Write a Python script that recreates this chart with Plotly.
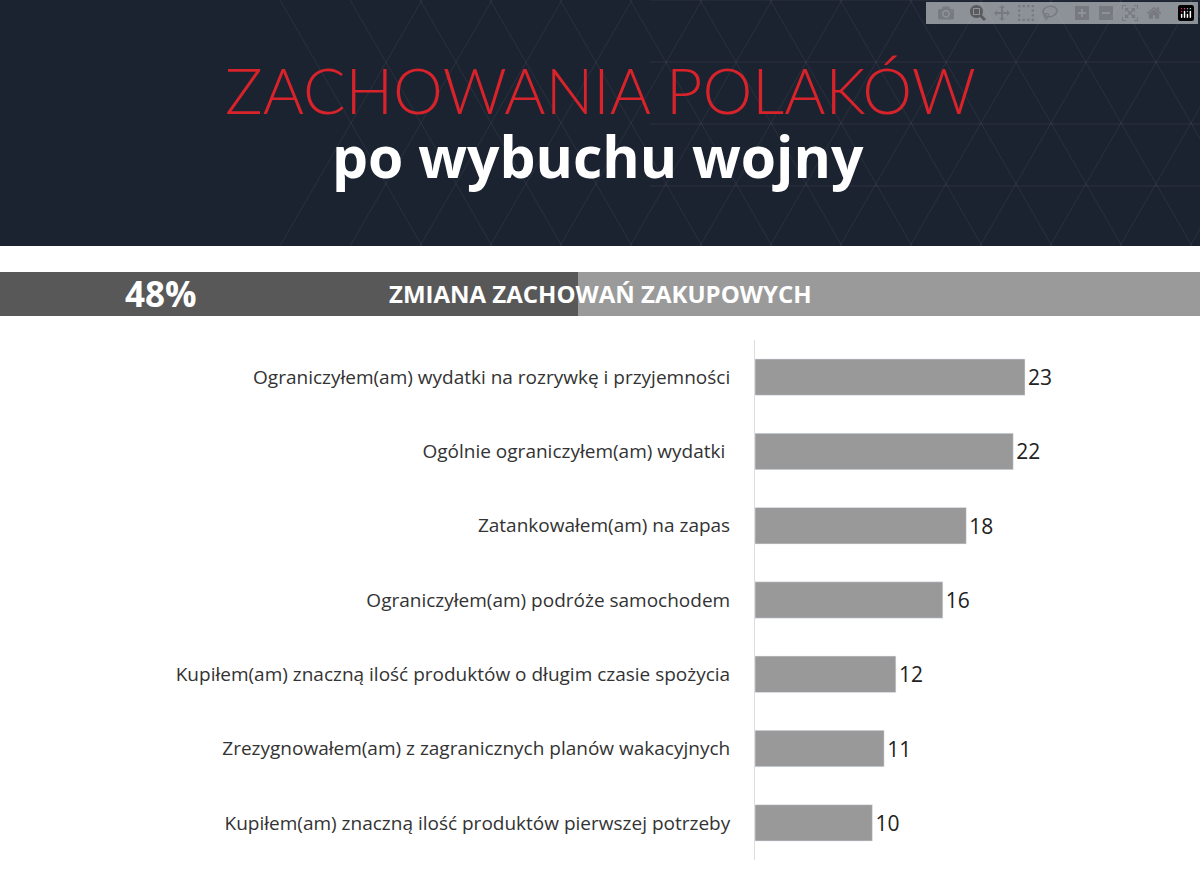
import plotly.graph_objects as go

categories = [
    "Ograniczyłem(am) wydatki na rozrywkę i przyjemności",
    "Ogólnie ograniczyłem(am) wydatki ",
    "Zatankowałem(am) na zapas",
    "Ograniczyłem(am) podróże samochodem",
    "Kupiłem(am) znaczną ilość produktów o długim czasie spożycia",
    "Zrezygnowałem(am) z zagranicznych planów wakacyjnych",
    "Kupiłem(am) znaczną ilość produktów pierwszej potrzeby",
]
values = [23, 22, 18, 16, 12, 11, 10]
share_label = "48%"
band_title = "ZMIANA ZACHOWAŃ ZAKUPOWYCH"

fig = go.Figure(go.Bar(
    y=categories, x=values, orientation="h",
    marker_color="#999999", width=0.49,
    text=values, textposition="outside", cliponaxis=False,
    textfont=dict(size=21, color="#222222", family="Open Sans"),
))

H = 892
shapes = [
    dict(type="rect", xref="paper", yref="paper", x0=0, x1=1, y0=1 - 246 / H, y1=1,
         fillcolor="#1b2230", line_width=0, layer="below"),
    dict(type="rect", xref="paper", yref="paper", x0=0, x1=578 / 1200, y0=1 - 316 / H, y1=1 - 272 / H,
         fillcolor="#585858", line_width=0, layer="below"),
    dict(type="rect", xref="paper", yref="paper", x0=578 / 1200, x1=1, y0=1 - 316 / H, y1=1 - 272 / H,
         fillcolor="#9a9a9a", line_width=0, layer="below"),
]
# faint triangle grid in the header's right part
for i in range(-6, 14):
    x0 = 700 + i * 70
    shapes.append(dict(type="line", xref="paper", yref="paper", x0=x0 / 1200, y0=1 - 246 / H,
                       x1=(x0 + 142) / 1200, y1=1, line=dict(color="rgba(255,255,255,0.07)", width=1)))
    shapes.append(dict(type="line", xref="paper", yref="paper", x0=(x0 + 142) / 1200, y0=1 - 246 / H,
                       x1=x0 / 1200, y1=1, line=dict(color="rgba(255,255,255,0.07)", width=1)))
for yy in range(0, 246, 62):
    shapes.append(dict(type="line", xref="paper", yref="paper", x0=650 / 1200, x1=1,
                       y0=1 - yy / H, y1=1 - yy / H, line=dict(color="rgba(255,255,255,0.07)", width=1)))

annotations = [
    dict(text="ZACHOWANIA POLAKÓW", x=600 / 1200, y=1 - 90 / H, xref="paper", yref="paper", showarrow=False,
         font=dict(size=63, color="#d8232a", family="Lato Light, Lato"), xanchor="center", yanchor="middle"),
    dict(text="<b>po wybuchu wojny</b>", x=598 / 1200, y=1 - 156 / H, xref="paper", yref="paper", showarrow=False,
         font=dict(size=57, color="white", family="Open Sans"), xanchor="center", yanchor="middle"),
    dict(text="<b>" + share_label + "</b>", x=161 / 1200, y=1 - 294 / H, xref="paper", yref="paper",
         showarrow=False, font=dict(size=35, color="white", family="Open Sans"),
         xanchor="center", yanchor="middle"),
    dict(text="<b>" + band_title + "</b>", x=600 / 1200, y=1 - 294 / H, xref="paper", yref="paper",
         showarrow=False, font=dict(size=24, color="white", family="Open Sans"),
         xanchor="center", yanchor="middle"),
]

fig.update_layout(
    width=1200, height=892, margin=dict(l=0, r=0, t=0, b=0),
    paper_bgcolor="white", plot_bgcolor="white", showlegend=False,
    shapes=shapes, annotations=annotations,
    xaxis=dict(domain=[755 / 1200, (755 + 30 * 270 / 23) / 1200], range=[0, 30],
               visible=False),
    yaxis=dict(domain=[1 - 860 / H, 1 - 340 / H], autorange="reversed",
               showline=True, linecolor="#dddddd", linewidth=1, ticks="",
               ticklabelstandoff=20,
               tickfont=dict(size=19, color="#333333", family="Open Sans")),
)
fig.write_html("out.html", post_script="document.body.style.margin='0';")
